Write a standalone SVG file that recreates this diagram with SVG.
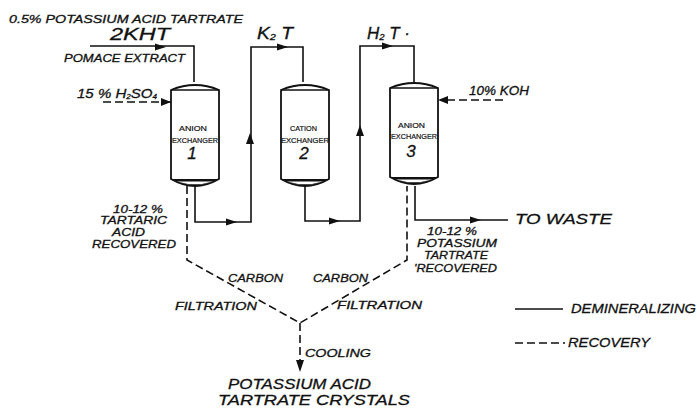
<svg xmlns="http://www.w3.org/2000/svg" width="697" height="408" viewBox="0 0 697 408">
<style>
text{font-family:"Liberation Sans",Arial,sans-serif;font-style:italic;fill:#111;stroke:#111;stroke-width:.3}
.up{font-style:normal;font-size:8px;stroke-width:.2}
.num{font-size:17px;text-anchor:middle}
.v{fill:#fff;stroke:#111;stroke-width:1.8}
.s{fill:none;stroke:#111;stroke-width:1.6}
.d{fill:none;stroke:#111;stroke-width:1.6;stroke-dasharray:8 4}
.a{fill:#111}
</style>
<defs>
<g id="vessel">
<path class="v" d="M0 9Q24 -1 48 9V98Q24 112 0 98Z"/>
<path class="s" d="M0 9H48" stroke-width="1"/>
<path d="M0 98H48Q24 110 0 98Z" fill="#111"/>
<path d="M6 100.500H42Q24 106 6 100.500Z" fill="#fff"/>
</g>
</defs>
<g id="connectors">
<path class="s" d="M90 46H194V82"/>
<path class="s" d="M195 186V222H251V47H303V82"/>
<path class="s" d="M305 186V221H360V46H414V82"/>
<path class="s" d="M415 186V220H508"/>
<path class="d" d="M103 102H171"/>
<path class="d" d="M503 100H440"/>
<path class="d" d="M187 186V260L300 323L407 260V186"/>
<path class="d" d="M300 323V365"/>
<path class="a" d="M171 102l-10 -4v8zM166 47l-11 -3.500v7zM288 47l-11 -3.500v7zM393 46l-11 -3.500v7zM438 100l10 -4v8zM250 133l-4 11h8zM360 125l-4 11h8zM237 222l-11 -3.500v7zM340 221l-11 -3.500v7zM481 220l-11 -3.500v7zM300 372l-4 -12h8z"/>
</g>
<g id="node-anion-1">
<use href="#vessel" x="171" y="81"/>
<text class="up" x="179" y="131" textLength="28" lengthAdjust="spacingAndGlyphs">ANION</text>
<text class="up" x="172" y="143" textLength="46" lengthAdjust="spacingAndGlyphs">EXCHANGER</text>
<text class="num" x="192" y="159">1</text>
</g>
<g id="node-cation-2">
<use href="#vessel" x="281" y="81"/>
<text class="up" x="290" y="131" textLength="27" lengthAdjust="spacingAndGlyphs">CATION</text>
<text class="up" x="281" y="143" textLength="48" lengthAdjust="spacingAndGlyphs">EXCHANGER</text>
<text class="num" x="304" y="159">2</text>
</g>
<g id="node-anion-3">
<use href="#vessel" x="390" y="79"/>
<text class="up" x="398" y="128" textLength="27" lengthAdjust="spacingAndGlyphs">ANION</text>
<text class="up" x="391" y="139" textLength="46" lengthAdjust="spacingAndGlyphs">EXCHANGER</text>
<text class="num" x="411" y="157">3</text>
</g>
<g id="labels">
<text x="9" y="23" font-size="11" textLength="234" lengthAdjust="spacingAndGlyphs">0.5% POTASSIUM ACID TARTRATE</text>
<text x="110" y="40" font-size="17" textLength="60" lengthAdjust="spacingAndGlyphs">2KHT</text>
<text x="64" y="62" font-size="11" textLength="121" lengthAdjust="spacingAndGlyphs">POMACE EXTRACT</text>
<text x="77" y="98" font-size="13" textLength="80" lengthAdjust="spacingAndGlyphs">15 % H<tspan font-size="7" dy="1">2</tspan><tspan dy="-1">SO</tspan><tspan font-size="7" dy="1">4</tspan></text>
<text x="257" y="39" font-size="16" textLength="36" lengthAdjust="spacingAndGlyphs">K<tspan font-size="9" dy="1">2</tspan><tspan dy="-1"> T</tspan></text>
<text x="367" y="39" font-size="16" textLength="43" lengthAdjust="spacingAndGlyphs">H<tspan font-size="9" dy="1">2</tspan><tspan dy="-1"> T ·</tspan></text>
<text x="469" y="95" font-size="12" textLength="60" lengthAdjust="spacingAndGlyphs">10% KOH</text>
<text x="113" y="213" font-size="11" textLength="50" lengthAdjust="spacingAndGlyphs">10-12 %</text>
<text x="100" y="224" font-size="11" textLength="67" lengthAdjust="spacingAndGlyphs">TARTARIC</text>
<text x="112" y="236" font-size="11" textLength="33" lengthAdjust="spacingAndGlyphs">ACID</text>
<text x="92" y="248" font-size="11" textLength="84" lengthAdjust="spacingAndGlyphs">RECOVERED</text>
<text x="427" y="235" font-size="11" textLength="50" lengthAdjust="spacingAndGlyphs">10-12 %</text>
<text x="417" y="247" font-size="11" textLength="80" lengthAdjust="spacingAndGlyphs">POTASSIUM</text>
<text x="424" y="259" font-size="11" textLength="64" lengthAdjust="spacingAndGlyphs">TARTRATE</text>
<text x="414" y="272" font-size="11" textLength="83" lengthAdjust="spacingAndGlyphs">'RECOVERED</text>
<text x="515" y="224" font-size="15" textLength="97" lengthAdjust="spacingAndGlyphs">TO WASTE</text>
<text x="228" y="282" font-size="11" textLength="55" lengthAdjust="spacingAndGlyphs">CARBON</text>
<text x="313" y="282" font-size="11" textLength="55" lengthAdjust="spacingAndGlyphs">CARBON</text>
<text x="175" y="310" font-size="11" textLength="82" lengthAdjust="spacingAndGlyphs">FILTRATION</text>
<text x="337" y="309" font-size="11" textLength="85" lengthAdjust="spacingAndGlyphs">FILTRATION</text>
<text x="305" y="357" font-size="11" textLength="66" lengthAdjust="spacingAndGlyphs">COOLING</text>
<text x="228" y="389" font-size="14" textLength="143" lengthAdjust="spacingAndGlyphs">POTASSIUM ACID</text>
<text x="218" y="405" font-size="14" textLength="192" lengthAdjust="spacingAndGlyphs">TARTRATE CRYSTALS</text>
</g>
<g id="legend">
<path class="s" d="M515 309H563"/>
<path class="d" d="M515 343H565"/>
<text x="571" y="313" font-size="13" textLength="125" lengthAdjust="spacingAndGlyphs">DEMINERALIZING</text>
<text x="568" y="347" font-size="13" textLength="82" lengthAdjust="spacingAndGlyphs">RECOVERY</text>
</g>
</svg>
